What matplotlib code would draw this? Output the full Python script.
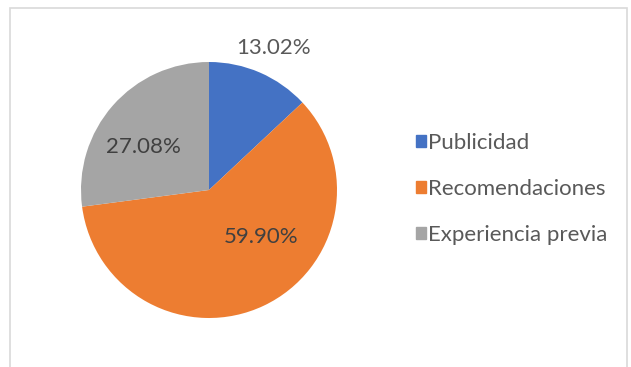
import numpy as np
import matplotlib.pyplot as plt
from matplotlib.patches import Rectangle

# Share of each factor (percent)
categories = ["Publicidad", "Recomendaciones", "Experiencia previa"]
shares = [13.02, 59.90, 27.08]
colors = ["#4472C4", "#ED7D31", "#A5A5A5"]

W, H = 631, 367
plt.rcParams['font.family'] = ['Lato', 'DejaVu Sans']

fig = plt.figure(figsize=(W / 100, H / 100), dpi=100)
fig.patch.set_facecolor("white")

# chart frame
fig.patches.append(Rectangle((10 / W, -0.05), (627 - 10) / W, (H - 8) / H + 0.05,
                             transform=fig.transFigure, fill=False,
                             edgecolor="#D9D9D9", linewidth=1.2))

# pie area: centre (209, 190) px, radius ~128 px
cx, cy, r = 209, 190, 128
ax = fig.add_axes([(cx - r) / W, (H - cy - r) / H, 2 * r / W, 2 * r / H])
wedges, _ = ax.pie(shares, colors=colors, startangle=90, counterclock=False,
                   radius=1.0, wedgeprops=dict(linewidth=0))
ax.set_xlim(-1, 1)
ax.set_ylim(-1, 1)
ax.set_aspect("auto")
ax.axis("off")

# label placement per wedge: (radial distance, angle shift in degrees)
label_pos = [(1.22, -1.0), (0.55, 23.0), (0.61, 8.0)]
label_colors = ["#595959", "#404040", "#404040"]
for w, val, (dist, shift), col in zip(wedges, shares, label_pos, label_colors):
    mid = np.deg2rad((w.theta1 + w.theta2) / 2 + shift)
    ax.text(dist * np.cos(mid), dist * np.sin(mid), f"{val:.2f}%",
            ha="center", va="center", fontsize=16, color=col, clip_on=False)

handles = [Rectangle((0, 0), 1, 1, color=c) for c in colors]
fig.legend(handles, categories, loc="center left", bbox_to_anchor=(396 / W, 1 - 189 / H),
           frameon=False, fontsize=16, labelcolor="#595959",
           handlelength=0.45, handleheight=0.45, handletextpad=0.1,
           labelspacing=1.17)

fig.savefig("out.png", dpi=100)
